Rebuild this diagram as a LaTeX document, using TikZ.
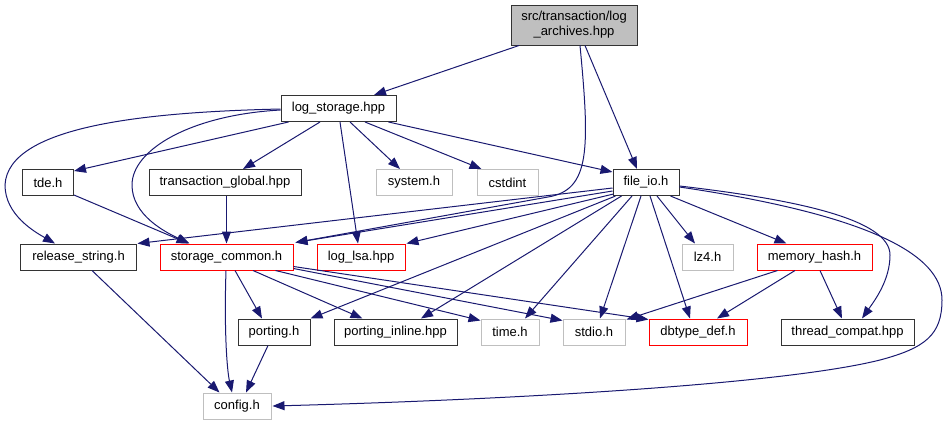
\documentclass[tikz,border=0pt]{standalone}
\usepackage{fontspec}
\setmainfont{Liberation Sans}
\usetikzlibrary{arrows.meta}
\definecolor{edgec}{HTML}{191970}
\definecolor{grayb}{HTML}{BFBFBF}
\definecolor{redb}{HTML}{FF0000}
\begin{document}
\begin{tikzpicture}[x=1bp,y=-1bp,
  box/.style={draw=black!80,line width=1bp,inner sep=0pt,minimum height=26bp,font=\fontsize{13bp}{15bp}\selectfont},
  gbox/.style={box,draw=grayb},
  rbox/.style={box,draw=redb},
  ar/.style={draw=edgec,line width=1bp,-{Triangle[length=12bp,width=9bp]}}]
\useasboundingbox (0,0) rectangle (948,425);
% nodes
\node[box,fill=grayb,minimum width=126bp,minimum height=40bp,align=center] (top) at (574,25) {src/transaction/log\\\_archives.hpp};
\node[box,minimum width=115bp] (ls) at (338.5,108.5) {log\_storage.hpp};
\node[box,minimum width=51bp] (tde) at (48,182.5) {tde.h};
\node[box,minimum width=152bp] (tg) at (225,182.5) {transaction\_global.hpp};
\node[gbox,minimum width=76bp] (sys) at (414,182.5) {system.h};
\node[gbox,minimum width=61bp] (cst) at (507.5,182.5) {cstdint};
\node[box,minimum width=66bp] (fio) at (646,182.5) {file\_io.h};
\node[box,minimum width=115bp] (rs) at (78.5,257) {release\_string.h};
\node[rbox,minimum width=133bp] (sc) at (226.5,257) {storage\_common.h};
\node[rbox,minimum width=88bp] (lsa) at (361,257) {log\_lsa.hpp};
\node[gbox,minimum width=51bp] (lz4) at (707.5,257) {lz4.h};
\node[rbox,minimum width=115bp] (mh) at (814.5,257) {memory\_hash.h};
\node[box,minimum width=72bp] (por) at (274,332) {porting.h};
\node[box,minimum width=123bp] (pin) at (395.5,332) {porting\_inline.hpp};
\node[gbox,minimum width=58bp] (tim) at (510,332) {time.h};
\node[gbox,minimum width=62bp] (std) at (594,332) {stdio.h};
\node[rbox,minimum width=98bp] (dbt) at (698,332) {dbtype\_def.h};
\node[box,minimum width=133bp] (thr) at (847.5,332) {thread\_compat.hpp};
\node[gbox,minimum width=68bp] (cfg) at (237,406) {config.h};
% edges
\draw[ar] ([xshift=-55bp]top.south) -- ([xshift=35.5bp]ls.north);
\draw[ar] ([xshift=6bp]top.south) .. controls (590,150) and (590,190) .. (548,197) -- ([xshift=2bp,yshift=1bp]sc.north east);
\draw[ar] ([xshift=11bp]top.south) -- ([xshift=-9bp]fio.north);
\draw[ar] ([xshift=8bp]ls.south west) -- ([yshift=-2bp]tde.north east);
\draw[ar] ([xshift=-18.5bp]ls.south) -- ([xshift=18bp]tg.north);
\draw[ar] ([xshift=11.5bp]ls.south) -- ([xshift=-14bp]sys.north);
\draw[ar] ([xshift=26.5bp]ls.south) -- ([xshift=5bp]cst.north west);
\draw[ar] ([xshift=-8bp]ls.south east) -- ([yshift=-3bp]fio.north west);
\draw[ar] ([xshift=1.5bp]ls.south) -- ([xshift=-3bp]lsa.north);
\draw[ar] ([yshift=-0.5bp]ls.west) .. controls (150,112) and (8,125) .. (5,185) .. controls (5,215) and (35,232) .. ([xshift=-23.5bp]rs.north);
\draw[ar] ([yshift=-1.5bp]ls.west) .. controls (190,115) and (132,150) .. (132,185) .. controls (132,215) and (165,232) .. ([xshift=30bp]sc.north west);
\draw[ar] ([yshift=1bp]tde.south east) -- ([xshift=29bp]sc.north west);
\draw[ar] (sc.north |- tg.south) -- (sc.north);
\draw[ar] ([yshift=-5.5bp]fio.west) -- ([xshift=1bp]rs.north east);
\draw[ar] ([yshift=-8.5bp]fio.west) -- ([xshift=2bp,yshift=1bp]sc.north east);
\draw[ar] ([xshift=1bp,yshift=2bp]fio.south west) -- ([xshift=1bp]lsa.north east);
\draw[ar] ([xshift=3bp]fio.south west) -- (por.north east);
\draw[ar] ([xshift=9bp]fio.south west) -- ([xshift=25.5bp]pin.north);
\draw[ar] ([xshift=-14bp]fio.south) -- ([xshift=15bp]tim.north);
\draw[ar] ([xshift=-5bp]fio.south) -- ([xshift=6bp]std.north);
\draw[ar] ([xshift=4bp]fio.south) -- ([xshift=-8bp]dbt.north);
\draw[ar] ([xshift=11bp]fio.south) -- ([xshift=-12.5bp]lz4.north);
\draw[ar] ([xshift=-9bp]fio.south east) -- ([xshift=30bp]mh.north west);
\draw[ar] ([yshift=-3.5bp]fio.east) .. controls (800,200) and (890,220) .. (890,255) .. controls (890,280) and (875,300) .. ([xshift=14.5bp]thr.north);
\draw[ar] ([yshift=-4.5bp]fio.east) .. controls (870,215) and (942,255) .. (942,300) .. controls (942,335) and (925,348) .. (880,360) .. controls (780,385) and (500,400) .. ([xshift=1bp]cfg.east);
\draw[ar] ([xshift=13.5bp]rs.south) -- ([xshift=17bp]cfg.north west);
\draw[ar] ([xshift=-0.5bp]sc.south) .. controls (224,330) and (227,370) .. ([xshift=-5bp]cfg.north);
\draw[ar] ([xshift=8.5bp]sc.south) -- ([xshift=-12bp]por.north);
\draw[ar] ([xshift=26.5bp]sc.south) -- ([xshift=29bp]pin.north west);
\draw[ar] ([xshift=-18bp]sc.south east) -- ([yshift=-2bp]tim.north west);
\draw[ar] ([yshift=2bp]sc.south east) -- ([yshift=-2bp]std.north west);
\draw[ar] ([yshift=4bp]sc.south east) -- ([yshift=-1bp]dbt.north west);
\draw[ar] ([xshift=-6bp]por.south) -- ([xshift=9bp]cfg.north);
\draw[ar] ([xshift=21bp]mh.south west) -- ([xshift=1bp,yshift=-1bp]std.north east);
\draw[ar] ([xshift=-19.5bp]mh.south) -- ([xshift=19bp]dbt.north);
\draw[ar] ([xshift=5.5bp]mh.south) -- ([xshift=-5.5bp]thr.north);
\end{tikzpicture}
\end{document}
